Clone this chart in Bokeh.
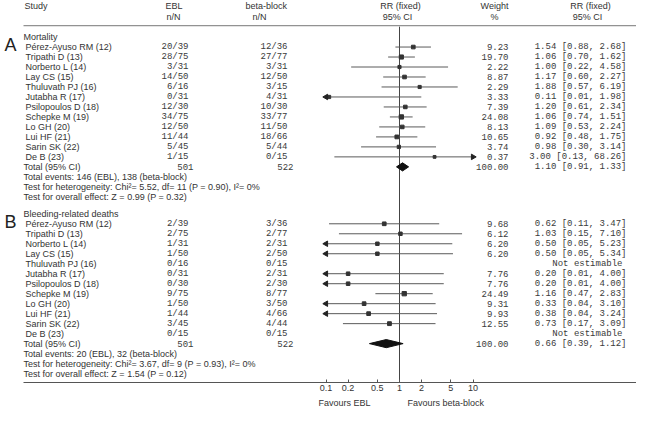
import math
from bokeh.plotting import figure
from bokeh.layouts import column
from bokeh.models import Range1d, LogScale, LogAxis, FixedTicker, ColumnDataSource
from bokeh.core.properties import value
from bokeh.embed import file_html
from bokeh.resources import INLINE

# ---------------- data ----------------
mort_names = ["Pérez-Ayuso RM (12)", "Tripathi D (13)", " Norberto L (14)", "Lay CS (15)",
              "Thuluvath PJ (16)", "Jutabha R (17)", "Psilopoulos D (18)", "Schepke M (19)",
              "Lo GH (20)", "Lui HF (21)", "Sarin SK (22)", "De B (23)"]
mort_ebl = ["20/39", "28/75", "3/31", "14/50", "6/16", "0/31", "12/30", "34/75", "12/50", "11/44", "5/45", "1/15"]
mort_bb = ["12/36", "27/77", "3/31", "12/50", "3/15", "4/31", "10/30", "33/77", "11/50", "18/66", "5/44", "0/15"]
mort_w = [9.23, 19.70, 2.22, 8.87, 2.29, 3.33, 7.39, 24.08, 8.13, 10.65, 3.74, 0.37]
mort_rr = [1.54, 1.06, 1.00, 1.17, 1.88, 0.11, 1.20, 1.06, 1.09, 0.92, 0.98, 3.00]
mort_lo = [0.88, 0.70, 0.22, 0.60, 0.57, 0.01, 0.61, 0.74, 0.53, 0.48, 0.30, 0.13]
mort_hi = [2.68, 1.62, 4.58, 2.27, 6.19, 1.98, 2.34, 1.51, 2.24, 1.75, 3.14, 68.26]
mort_total = {"ebl": "501", "bb": "522", "w": 100.00, "rr": 1.10, "lo": 0.91, "hi": 1.33}
mort_notes = ["Total events: 146 (EBL), 138 (beta-block)",
              "Test for heterogeneity: Chi²= 5.52, df= 11 (P = 0.90), I²= 0%",
              "Test for overall effect: Z = 0.99 (P = 0.32)"]

bleed_names = ["Pérez-Ayuso RM (12)", "Tripathi D (13)", "Norberto L (14)", "Lay CS (15)",
               "Thuluvath PJ (16)", "Jutabha R (17)", "Psilopoulos D (18)", "Schepke M (19)",
               "Lo GH (20)", "Lui HF (21)", "Sarin SK (22)", " De B (23)"]
bleed_ebl = ["2/39", "2/75", "1/31", "1/50", "0/16", "0/31", "0/30", "9/75", "1/50", "1/44", "3/45", "0/15"]
bleed_bb = ["3/36", "2/77", "2/31", "2/50", "0/15", "2/31", "2/30", "8/77", "3/50", "4/66", "4/44", "0/15"]
bleed_w = [9.68, 6.12, 6.20, 6.20, None, 7.76, 7.76, 24.49, 9.31, 9.93, 12.55, None]
bleed_rr = [0.62, 1.03, 0.50, 0.50, None, 0.20, 0.20, 1.16, 0.33, 0.38, 0.73, None]
bleed_lo = [0.11, 0.15, 0.05, 0.05, None, 0.01, 0.01, 0.47, 0.04, 0.04, 0.17, None]
bleed_hi = [3.47, 7.10, 5.23, 5.34, None, 4.00, 4.00, 2.83, 3.10, 3.24, 3.09, None]
bleed_total = {"ebl": "501", "bb": "522", "w": 100.00, "rr": 0.66, "lo": 0.39, "hi": 1.12}
bleed_notes = ["Total events: 20 (EBL), 32 (beta-block)",
               "Test for heterogeneity: Chi²= 3.67, df= 9 (P = 0.93), I²= 0%",
               "Test for overall effect: Z = 1.54 (P = 0.12)"]

ticks = [0.1, 0.2, 0.5, 1, 2, 5, 10]
tick_labels = ["0.1", "0.2", "0.5", "1", "2", "5", "10"]
favours = ["Favours EBL", "Favours beta-block"]

# ---------------- layout constants (reference pixel units) ----------------
W = 636
MAIN_H, FAV_H = 396, 12
X0, X1 = 0, 636
Y_AXIS = 394
X_ONE = 399.0
DEC = 73.5
ROW = 10.3
CLIP_LO, CLIP_HI = 0.1, 10.0


def rr_at(px):
    return 10 ** ((px - X_ONE) / DEC)


TXT = "#333333"
MTXT = "#3a3a3a"
SANS = "Liberation Sans"
MONO = "Liberation Mono"
FS = "9px"
FM = "9px"

p = figure(width=W, height=MAIN_H, x_range=Range1d(X0, X1), y_range=Range1d(Y_AXIS, 0),
           output_backend="svg", toolbar_location=None,
           x_axis_location=None, y_axis_location=None,
           min_border_left=0, min_border_right=0, min_border_top=0, min_border_bottom=14)
p.grid.visible = False
p.outline_line_color = None

p.extra_x_ranges = {"rr": Range1d(rr_at(X0), rr_at(X1))}
p.extra_x_scales = {"rr": LogScale()}

ax = LogAxis(x_range_name="rr", ticker=FixedTicker(ticks=ticks), bounds=(rr_at(23), rr_at(X1)))
ax.major_label_overrides = {t: l for t, l in zip(ticks, tick_labels)}
ax.axis_line_color = "#555555"
ax.major_tick_line_color = "#555555"
ax.major_tick_in = 3
ax.major_tick_out = 0
ax.minor_tick_line_color = None
ax.major_label_standoff = 2
ax.major_label_text_font = SANS
ax.major_label_text_font_size = FS
ax.major_label_text_color = TXT
p.add_layout(ax, "below")

# header
hdr = ColumnDataSource(dict(
    x=[24, 165, 245, 400, 494, 590, 166, 252, 397, 494, 587],
    y=[6, 6, 6, 6, 6, 6, 17, 17, 17, 17, 17],
    t=["Study", "EBL", "beta-block", "RR (fixed)", "Weight", "RR (fixed)", "n/N", "n/N", "95% CI", "%", "95% CI"],
    a=["left", "left", "left", "center", "center", "center", "left", "left", "center", "center", "center"]))
p.text(x="x", y="y", text="t", text_align="a", text_baseline="middle", source=hdr,
       text_font=value(SANS), text_font_size=FS, text_color=TXT)
p.segment(x0=[23], y0=[26], x1=[X1], y1=[26], line_color="#777777", line_width=1)

# vertical line at RR = 1
p.segment(x0=[1], y0=[27], x1=[1], y1=[Y_AXIS], x_range_name="rr", line_color="#444444", line_width=1)


def section(letter, title, y_title, y_first, names, ebl, bb, w, rr, lo, hi, total, notes):
    ys = [y_first + ROW * i for i in range(len(names))]
    y_tot = y_first + ROW * len(names)
    y_notes = [y_tot + ROW * (k + 1) for k in range(len(notes))]

    p.text(x=[4], y=[y_title + 8], text=[letter], text_baseline="middle",
           text_font=value(SANS), text_font_size="18px", text_color="#222222")
    sx = [23] + [25] * len(names) + [23] + [23] * len(notes)
    sy = [y_title] + ys + [y_tot] + y_notes
    st = [title] + names + ["Total (95% CI)"] + notes
    p.text(x=sx, y=sy, text=st, text_baseline="middle",
           text_font=value(SANS), text_font_size=FS, text_color=TXT)
    mx, my, mt = [], [], []
    for i in range(len(names)):
        mx += [188, 287]
        my += [ys[i], ys[i]]
        mt += [ebl[i], bb[i]]
        if w[i] is not None:
            mx += [508, 626]
            my += [ys[i], ys[i]]
            mt += ["%.2f" % w[i], "%.2f [%.2f, %.2f]" % (rr[i], lo[i], hi[i])]
        else:
            mx += [622]
            my += [ys[i]]
            mt += ["Not estimable"]
    mx += [193, 293, 508, 626]
    my += [y_tot] * 4
    mt += [total["ebl"], total["bb"], "%.2f" % total["w"],
           "%.2f [%.2f, %.2f]" % (total["rr"], total["lo"], total["hi"])]
    p.text(x=mx, y=my, text=mt, text_align="right", text_baseline="middle",
           text_font=value(MONO), text_font_size=FM, text_color=MTXT)

    idx = [i for i in range(len(names)) if rr[i] is not None]
    cy = [ys[i] for i in idx]
    clo = [max(lo[i], CLIP_LO) for i in idx]
    chi = [min(hi[i], CLIP_HI) for i in idx]
    p.segment(x0=clo, y0=cy, x1=chi, y1=cy, x_range_name="rr", line_color="#5a5a5a", line_width=1)
    p.scatter(x=[rr[i] for i in idx], y=cy, size=[2.6 + 0.35 * math.sqrt(w[i]) for i in idx],
              marker="square", x_range_name="rr", fill_color="#333333", line_color="#333333")
    la = [i for i in idx if lo[i] < CLIP_LO]
    ra = [i for i in idx if hi[i] > CLIP_HI]
    if la:
        p.scatter(x=[CLIP_LO] * len(la), y=[ys[i] for i in la], marker="triangle", size=5.5,
                  angle=math.pi / 2, x_range_name="rr", fill_color="#222222", line_color="#222222")
    if ra:
        p.scatter(x=[CLIP_HI] * len(ra), y=[ys[i] for i in ra], marker="triangle", size=5.5,
                  angle=-math.pi / 2, x_range_name="rr", fill_color="#222222", line_color="#222222")
    h = 4.2
    p.patch(x=[total["lo"], total["rr"], total["hi"], total["rr"]],
            y=[y_tot, y_tot - h, y_tot, y_tot + h], x_range_name="rr",
            fill_color="#111111", line_color="#111111")


section("A", "Mortality", 37.5, 48, mort_names, mort_ebl, mort_bb, mort_w, mort_rr, mort_lo, mort_hi,
        mort_total, mort_notes)
section("B", "Bleeding-related deaths", 220, 230.3, bleed_names, bleed_ebl, bleed_bb, bleed_w, bleed_rr,
        bleed_lo, bleed_hi, bleed_total, bleed_notes)

# favours labels strip (shares the x range)
p2 = figure(width=W, height=FAV_H, x_range=p.x_range, y_range=Range1d(0, 1),
            output_backend="svg", toolbar_location=None,
            x_axis_location=None, y_axis_location=None,
            min_border_left=0, min_border_right=0, min_border_top=0, min_border_bottom=0)
p2.grid.visible = False
p2.outline_line_color = None
p2.text(x=[370, 407], y=[0.5, 0.5], text=favours, text_align=["right", "left"], text_baseline="middle",
        text_font=value(SANS), text_font_size=FS, text_color=TXT)

layout = column(p, p2, spacing=0)
open("out.html", "w").write(file_html(layout, INLINE))
